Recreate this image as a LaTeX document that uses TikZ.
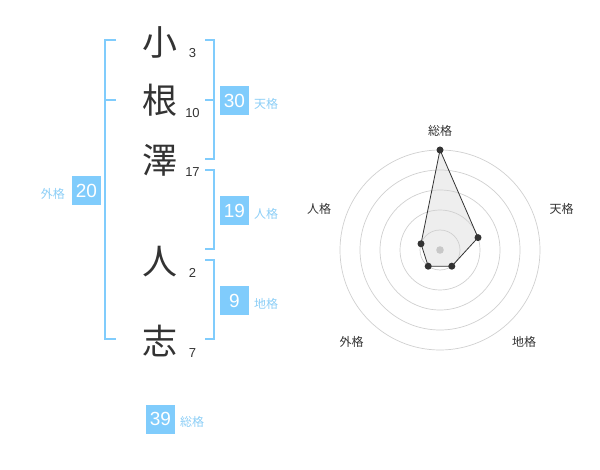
\documentclass[tikz,border=0pt]{standalone}
\usepackage{fontspec}
\setmainfont{Liberation Sans}
\newfontfamily\cjk{Noto Sans CJK JP}
\definecolor{boxblue}{RGB}{128,204,252}
\definecolor{lblblue}{RGB}{140,206,246}
\definecolor{ink}{RGB}{51,51,51}
\definecolor{ring}{RGB}{208,208,208}
\definecolor{area}{RGB}{238,238,238}
\definecolor{hub}{RGB}{200,200,200}
\tikzset{
  kanji/.style={inner sep=0pt, text=ink, font=\cjk\fontsize{35}{35}\selectfont},
  strokes/.style={inner sep=0pt, text=ink, font=\fontsize{13}{13}\selectfont},
  scorebox/.style={fill=boxblue, text=white, minimum width=29pt, minimum height=29pt, inner sep=0pt, font=\fontsize{19}{19}\selectfont},
  scorelbl/.style={inner sep=0pt, text=lblblue, font=\cjk\fontsize{12}{12}\selectfont},
  bracket/.style={draw=boxblue, line width=2pt},
  ringline/.style={draw=ring, line width=0.7pt},
  axislbl/.style={inner sep=0pt, text=ink, font=\cjk\fontsize{12}{12}\selectfont},
  dot/.style={circle, fill=ink, inner sep=0pt, minimum size=7pt},
}
\begin{document}
\begin{tikzpicture}[x=1pt,y=-1pt]
\useasboundingbox (0,0) rectangle (600,470);
% name characters
\node[kanji] (k1) at (160,42.5) {小};
\node[kanji] (k2) at (160,100) {根};
\node[kanji] (k3) at (160,160.5) {澤};
\node[kanji] (k4) at (160,262) {人};
\node[kanji] (k5) at (160,341) {志};
\node[strokes] (s1) at (192.5,53.3) {3};
\node[strokes] (s2) at (192.5,112.7) {10};
\node[strokes] (s3) at (192.5,171.7) {17};
\node[strokes] (s4) at (192.5,273.3) {2};
\node[strokes] (s5) at (192.5,352.7) {7};
% brackets
\draw[bracket] (116,40) -- (105,40) -- (105,339) -- (116,339);
\draw[bracket] (105,100) -- (116,100);
\draw[bracket] (205,40) -- (214,40) -- (214,159) -- (205,159);
\draw[bracket] (205,100) -- (214,100);
\draw[bracket] (205,170) -- (214,170) -- (214,249) -- (205,249);
\draw[bracket] (205,260) -- (214,260) -- (214,339) -- (205,339);
% scores
\node[scorebox] (ten) at (234.5,100.5) {30};
\node[scorelbl, anchor=west] (tenl) at (254,104.3) {天格};
\node[scorebox] (jin) at (234.5,210.5) {19};
\node[scorelbl, anchor=west] (jinl) at (254,214) {人格};
\node[scorebox] (chi) at (234.5,300.5) {9};
\node[scorelbl, anchor=west] (chil) at (254,304) {地格};
\node[scorebox] (gai) at (86.5,190.5) {20};
\node[scorelbl, anchor=east] (gail) at (65,194) {外格};
\node[scorebox] (sou) at (160.5,419) {39};
\node[scorelbl, anchor=west] (soul) at (180,422.3) {総格};
% radar chart
\coordinate (c) at (440,250);
\coordinate (pS) at (440,150);
\coordinate (pT) at (478.0,237.6);
\coordinate (pC) at (451.8,266.2);
\coordinate (pG) at (428.2,266.2);
\coordinate (pJ) at (421.0,243.8);
\fill[area] (pS) -- (pT) -- (pC) -- (pG) -- (pJ) -- cycle;
\foreach \r in {20,40,60,80,100} \draw[ringline] (c) circle[radius=\r];
\fill[hub] (c) circle[radius=3.8];
\draw[ink, line width=0.8pt] (pS) -- (pT) -- (pC) -- (pG) -- (pJ) -- cycle;
\foreach \p in {pS,pT,pC,pG,pJ} \node[dot] at (\p) {};
\node[axislbl] (aS) at (440,130.7) {総格};
\node[axislbl] (aT) at (561.7,209) {天格};
\node[axislbl] (aJ) at (319,209) {人格};
\node[axislbl] (aG) at (351.7,342.3) {外格};
\node[axislbl] (aC) at (524,342.3) {地格};
\end{tikzpicture}
\end{document}
